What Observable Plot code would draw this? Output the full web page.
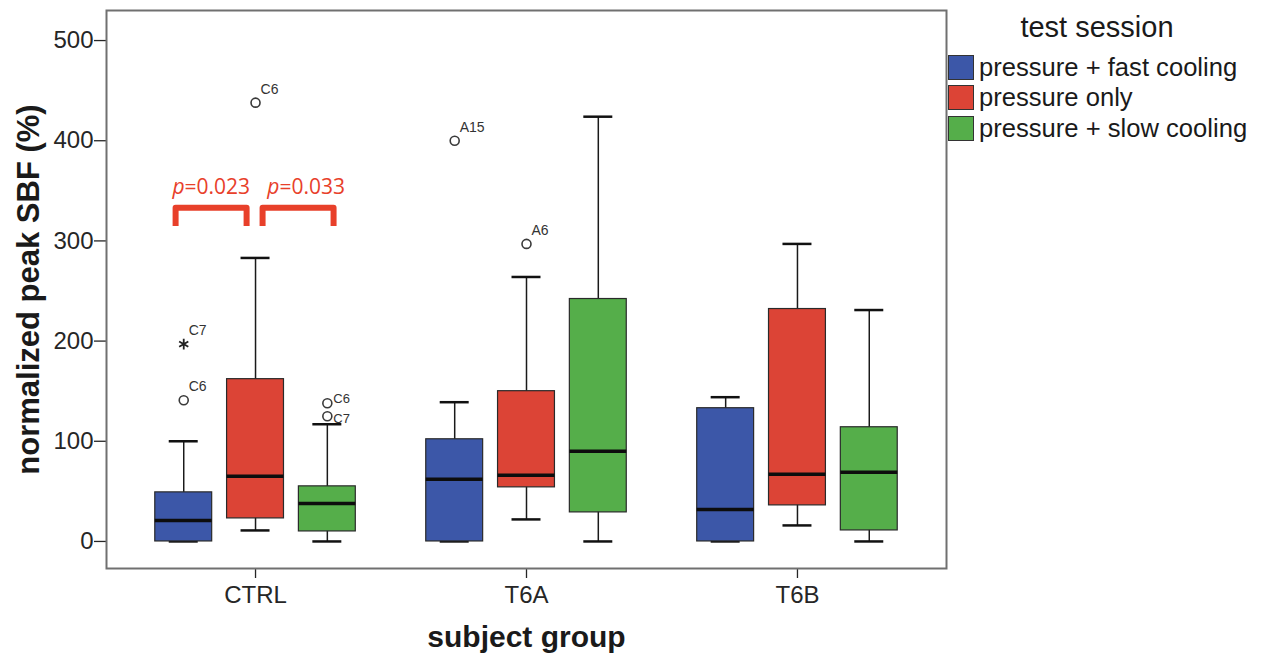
<!DOCTYPE html>
<html>
<head>
<meta charset="utf-8">
<script src="https://cdn.jsdelivr.net/npm/d3@7"></script>
<script src="https://cdn.jsdelivr.net/npm/@observablehq/plot@0.6"></script>
<style>
  html, body { margin: 0; padding: 0; background: #fff; }
  #wrap { position: relative; width: 1264px; height: 655px; font-family: "Liberation Sans", Arial, sans-serif; }
  #wrap svg g[aria-label="y-axis tick label"], #wrap svg g[aria-label="x-axis tick label"] { font-size: 24px; fill: #262626; }
  #wrap svg g[aria-label="y-axis label"] { font-size: 31px; font-weight: bold; fill: #1a1a1a; }
  #wrap svg g[aria-label="x-axis label"] { font-size: 30px; font-weight: bold; fill: #1a1a1a; }
  #legend { position: absolute; left: 946px; top: 0; width: 318px; color: #1a1a1a; }
  #legend .title { position: absolute; left: 0; top: 13px; width: 302px; text-align: center; font-size: 29px; line-height: 29px; }
  #legend .rows { position: absolute; left: 2px; top: 52px; }
  #legend .row { display: flex; align-items: center; height: 30.5px; font-size: 25.6px; white-space: nowrap; }
  #legend .sw { width: 24px; height: 23px; border: 1px solid #333; margin-right: 5px; box-sizing: content-box; }
</style>
</head>
<body>
<div id="wrap"></div>
<script>
// ---- data ----
const groups = ["CTRL", "T6A", "T6B"];
const sessions = ["pressure + fast cooling", "pressure only", "pressure + slow cooling"];
const sessionColors = ["#3c57a8", "#dc4436", "#55ae4a"];
const yTicks = [0, 100, 200, 300, 400, 500];

// per group (rows) and per session (columns)
const whiskerLow  = [[0, 11, 0],   [0, 22, 0],    [0, 16, 0]];
const quartile1   = [[0, 23, 10],  [0, 54, 29],   [0, 36, 11]];
const medians     = [[21, 65, 38], [62, 66, 90],  [32, 67, 69]];
const quartile3   = [[49, 162, 55],[102, 150, 242],[133, 232, 114]];
const whiskerHigh = [[100, 283, 117],[139, 264, 424],[144, 297, 231]];

const outlierGroup   = ["CTRL", "CTRL", "CTRL", "CTRL", "CTRL", "T6A", "T6A"];
const outlierSession = [0, 0, 1, 2, 2, 0, 1];
const outlierValue   = [141, 197, 438, 138, 125, 400, 297];
const outlierId      = ["C6", "C7", "C6", "C6", "C7", "A15", "A6"];
const outlierExtreme = [false, true, false, false, false, false, false];

// significance brackets (CTRL group), x relative to group centre
const bracketLeft  = [-0.295, 0.026];
const bracketRight = [-0.033, 0.288];
const bracketLow   = [315, 315];
const bracketHigh  = [333, 333];
const pSplitX      = [-0.262, 0.088];
const pBaseline    = [347, 347];
const pValues      = ["=0.023", "=0.033"];

// ---- build tables ----
const offsets = [-0.265, 0, 0.265];
const boxHalf = 0.105, capHalf = 0.0535;
const rows = [];
groups.forEach((g, i) => sessions.forEach((s, j) => rows.push({
  group: g, session: s, pos: i + offsets[j],
  lo: whiskerLow[i][j], q1: quartile1[i][j], med: medians[i][j], q3: quartile3[i][j], hi: whiskerHigh[i][j]
})));
const outliers = outlierValue.map((v, k) => ({
  pos: groups.indexOf(outlierGroup[k]) + offsets[outlierSession[k]],
  session: sessions[outlierSession[k]], value: v, id: outlierId[k], extreme: outlierExtreme[k]
}));
const sideLabels = outliers.filter(d => d.session === sessions[2]);
const sideMax = d3.max(sideLabels, d => d.value);
const sideUpper = sideLabels.filter(d => d.value === sideMax);
const sideLower = sideLabels.filter(d => d.value !== sideMax);
const topLabels = outliers.filter(d => d.session !== sessions[2]);
const bracketPts = [];
bracketLeft.forEach((x1, k) => {
  const x2 = bracketRight[k];
  [[x1, bracketLow[k]], [x1, bracketHigh[k]], [x2, bracketHigh[k]], [x2, bracketLow[k]]]
    .forEach(([x, y]) => bracketPts.push({k, x, y}));
});
const pLabels = pSplitX.map((x, k) => ({x, y: pBaseline[k], v: pValues[k]}));

const red = "#e8402a";

const chart = Plot.plot({
  width: 1264, height: 655,
  marginLeft: 106, marginRight: 318, marginTop: 10, marginBottom: 87,
  style: {fontFamily: "'Liberation Sans', Arial, sans-serif", background: "white", color: "#262626"},
  x: {type: "linear", domain: [-0.55, 2.55]},
  y: {domain: [-27, 530]},
  color: {domain: sessions, range: sessionColors},
  marks: [
    Plot.axisY({ticks: yTicks, tickSize: 12, tickPadding: 1, strokeWidth: 1.3,
      label: "normalized peak SBF (%)", labelAnchor: "center", labelOffset: 90, labelArrow: "none"}),
    Plot.axisX({ticks: [0, 1, 2], tickFormat: i => groups[i], tickSize: 10, tickPadding: 7, strokeWidth: 1.3,
      label: "subject group", labelAnchor: "center", labelOffset: 78, labelArrow: "none"}),
    Plot.ruleX(rows, {x: "pos", y1: "lo", y2: "hi", stroke: "#1a1a1a", strokeWidth: 1.5}),
    Plot.ruleY(rows, {y: "hi", x1: d => d.pos - capHalf, x2: d => d.pos + capHalf, stroke: "#111", strokeWidth: 2.5}),
    Plot.ruleY(rows, {y: "lo", x1: d => d.pos - capHalf, x2: d => d.pos + capHalf, stroke: "#111", strokeWidth: 2.5}),
    Plot.rect(rows, {x1: d => d.pos - boxHalf, x2: d => d.pos + boxHalf, y1: "q1", y2: "q3",
      fill: "session", stroke: "#2a2a2a", strokeWidth: 1.2}),
    Plot.ruleY(rows, {y: "med", x1: d => d.pos - boxHalf, x2: d => d.pos + boxHalf, stroke: "#0d0d0d", strokeWidth: 3.5}),
    Plot.dot(outliers.filter(d => !d.extreme), {x: "pos", y: "value", r: 4.5, symbol: "circle",
      stroke: "#3a3a3a", strokeWidth: 1.6, fill: "white"}),
    Plot.dot(outliers.filter(d => d.extreme), {x: "pos", y: "value", r: 5, symbol: "asterisk",
      stroke: "#222", strokeWidth: 1.8}),
    Plot.text(topLabels, {x: "pos", y: "value", text: "id", textAnchor: "start", lineAnchor: "bottom",
      dx: 5, dy: -9, fontSize: 14, fill: "#333"}),
    Plot.text(sideUpper, {x: "pos", y: "value", text: "id", textAnchor: "start", lineAnchor: "middle",
      dx: 6, dy: -4, fontSize: 13, fill: "#333"}),
    Plot.text(sideLower, {x: "pos", y: "value", text: "id", textAnchor: "start", lineAnchor: "middle",
      dx: 6, dy: 3, fontSize: 13, fill: "#333"}),
    Plot.line(bracketPts, {x: "x", y: "y", z: "k", stroke: red, strokeWidth: 6,
      strokeLinejoin: "round", strokeLinecap: "butt"}),
    Plot.text(pLabels, {x: "x", y: "y", text: () => "p", textAnchor: "end", lineAnchor: "bottom",
      fontSize: 21, fontStyle: "italic", fontFamily: "'Open Sans', sans-serif", fill: red}),
    Plot.text(pLabels, {x: "x", y: "y", text: "v", textAnchor: "start", lineAnchor: "bottom",
      fontSize: 21, fontFamily: "'Open Sans', sans-serif", fill: red}),
    Plot.frame({stroke: "#707070", strokeWidth: 2})
  ]
});

const wrap = document.getElementById("wrap");
wrap.appendChild(chart);

const legend = document.createElement("div");
legend.id = "legend";
legend.innerHTML = `<div class="title">test session</div><div class="rows">` +
  sessions.map((s, i) => `<div class="row"><span class="sw" style="background:${sessionColors[i]}"></span><span>${s}</span></div>`).join("") +
  `</div>`;
wrap.appendChild(legend);
</script>
</body>
</html>
